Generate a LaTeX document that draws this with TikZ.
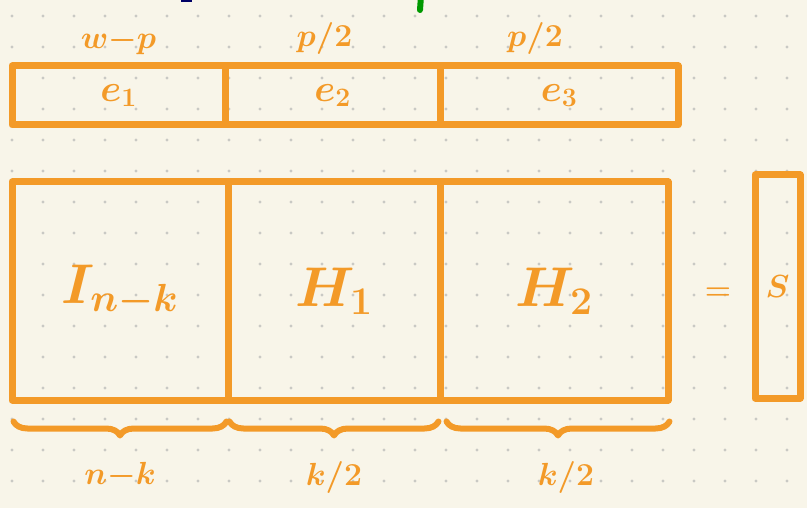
\documentclass[tikz,border=0pt]{standalone}
\usepackage{fix-cm}
\usepackage{amsmath}
\usetikzlibrary{decorations.pathreplacing,positioning}

\definecolor{paper}{HTML}{F8F5E9}
\definecolor{marker}{HTML}{F39A28}
\definecolor{griddot}{HTML}{C9C9C4}

\tikzset{
  cell/.style={draw=marker,line width=7pt,line join=round,inner sep=0pt,text=marker},
  lbl/.style={text=marker,font=\fontsize{32}{34}\selectfont\boldmath},
  brc/.style={draw=marker,line width=6pt,line cap=round,line join=round,
    decorate,decoration={brace,mirror,amplitude=14pt}}
}

\begin{document}
\begin{tikzpicture}[x=1pt,y=-1pt]
\fill[paper] (0,0) rectangle (807,508);
\useasboundingbox (0,0) rectangle (807,508);
% dotted paper
\foreach \i in {0,...,25}
  \foreach \j in {0,...,16}
    \fill[griddot] (12+31*\i,16+31*\j) circle (1.7);
% bits of strokes cut off at the top
\draw[line width=6pt,line cap=round,draw=green!60!black] (421,-4) -- (420,10);
\fill[blue!40!black] (181,-3) rectangle (192,2);

% error vector
\node[cell,minimum width=213pt,minimum height=59pt,font=\fontsize{38}{40}\selectfont\boldmath] (e1) at (118.5,95.5) {$e_1$};
\node[cell,minimum width=215pt,minimum height=59pt,font=\fontsize{38}{40}\selectfont\boldmath] (e2) at (332.5,95.5) {$e_2$};
\node[cell,minimum width=238pt,minimum height=59pt,font=\fontsize{38}{40}\selectfont\boldmath] (e3) at (559,95.5) {$e_3$};
\node[lbl,above=4pt of e1] (wp) {$w{-}p$};
\node[lbl,above=4pt of e2,xshift=-8pt] (pa) {$p/2$};
\node[lbl,above=4pt of e3,xshift=-24pt] (pb) {$p/2$};

% parity check matrix
\node[cell,minimum width=216pt,minimum height=218pt,font=\fontsize{56}{60}\selectfont\boldmath] (I) at (120,291) {$I_{n-k}$};
\node[cell,minimum width=212pt,minimum height=218pt,font=\fontsize{56}{60}\selectfont\boldmath] (H1) at (334,291) {$H_1$};
\node[cell,minimum width=228pt,minimum height=218pt,font=\fontsize{56}{60}\selectfont\boldmath] (H2) at (554,291) {$H_2$};
\node[lbl,font=\fontsize{30}{30}\selectfont\boldmath] (eq) at (718,294) {$=$};
\node[cell,minimum width=45pt,minimum height=223pt,font=\fontsize{32}{34}\selectfont\boldmath] (S) at (777.5,286.5) {$S$};

% widths
\draw[brc] ([xshift=5pt,yshift=-18pt]I.south west) -- ([xshift=-5pt,yshift=-18pt]I.south east)
  node[lbl,midway,below=34pt] (nk) {$n{-}k$};
\draw[brc] ([xshift=5pt,yshift=-18pt]H1.south west) -- ([xshift=-5pt,yshift=-18pt]H1.south east)
  node[lbl,midway,below=34pt] (ka) {$k/2$};
\draw[brc] ([xshift=10pt,yshift=-18pt]H2.south west) -- ([xshift=-2pt,yshift=-18pt]H2.south east)
  node[lbl,midway,below=34pt,xshift=8pt] (kb) {$k/2$};
\end{tikzpicture}
\end{document}
